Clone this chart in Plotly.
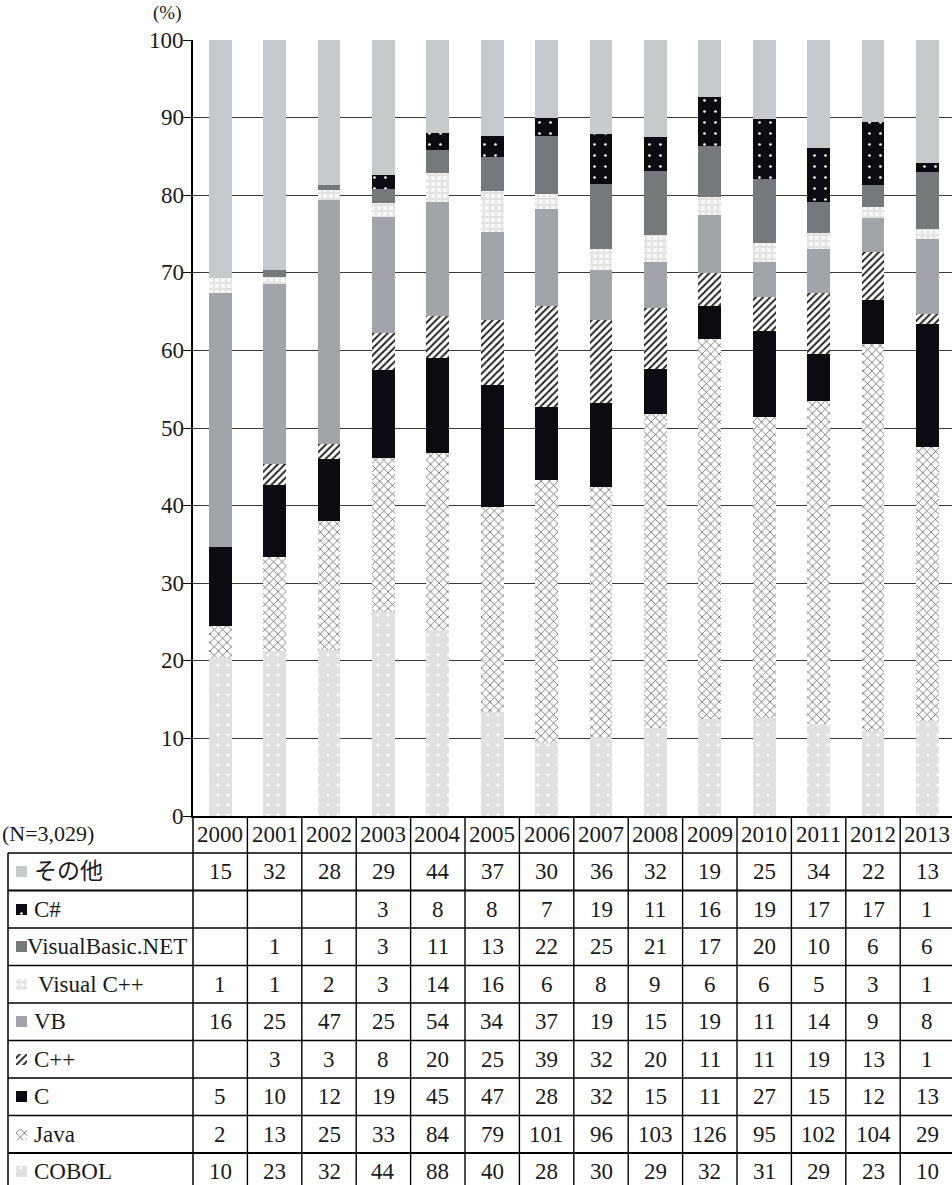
import numpy as np
import plotly.graph_objects as go

# ---------------- data ----------------
years = ["2000", "2001", "2002", "2003", "2004", "2005", "2006",
         "2007", "2008", "2009", "2010", "2011", "2012", "2013"]

# table order (top -> bottom)
row_labels = ["その他", "C#", "VisualBasic.NET", "Visual C++", "VB", "C++", "C", "Java", "COBOL"]

others = [15, 32, 28, 29, 44, 37, 30, 36, 32, 19, 25, 34, 22, 13]
csharp = [None, None, None, 3, 8, 8, 7, 19, 11, 16, 19, 17, 17, 1]
vbnet = [None, 1, 1, 3, 11, 13, 22, 25, 21, 17, 20, 10, 6, 6]
vcpp = [1, 1, 2, 3, 14, 16, 6, 8, 9, 6, 6, 5, 3, 1]
vb = [16, 25, 47, 25, 54, 34, 37, 19, 15, 19, 11, 14, 9, 8]
cpp = [None, 3, 3, 8, 20, 25, 39, 32, 20, 11, 11, 19, 13, 1]
c_lang = [5, 10, 12, 19, 45, 47, 28, 32, 15, 11, 27, 15, 12, 13]
java = [2, 13, 25, 33, 84, 79, 101, 96, 103, 126, 95, 102, 104, 29]
cobol = [10, 23, 32, 44, 88, 40, 28, 30, 29, 32, 31, 29, 23, 10]

y_ticks = [0, 10, 20, 30, 40, 50, 60, 70, 80, 90, 100]
n_label = "(N=3,029)"
unit_label = "(%)"

counts = [others, csharp, vbnet, vcpp, vb, cpp, c_lang, java, cobol]

# ---------------- styles ----------------
W, H = 952, 1185
FONT = "Liberation Serif, Noto Sans CJK JP, serif"
TXT = "#1a1a1a"

styles = {
    "その他": dict(color="#c8c9cb"),
    "C#": dict(color="#0c0b10", pattern=dict(shape=".", fgcolor="#ffffff", bgcolor="#0c0b10",
                                             size=11, solidity=0.045, fillmode="replace")),
    "VisualBasic.NET": dict(color="#77787a"),
    "Visual C++": dict(color="#eeeeee", pattern=dict(shape="+", fgcolor="#e2e2e2", bgcolor="#f6f6f6",
                                                     size=6, solidity=0.5, fillmode="replace")),
    "VB": dict(color="#a3a4a7"),
    "C++": dict(color="#ffffff", pattern=dict(shape="/", fgcolor="#222222", bgcolor="#ffffff",
                                              size=5, solidity=0.4, fillmode="replace")),
    "C": dict(color="#0c0b10"),
    "Java": dict(color="#ffffff", pattern=dict(shape="x", fgcolor="#3a3a3a", bgcolor="#ffffff",
                                               size=6, solidity=0.2, fillmode="replace")),
    "COBOL": dict(color="#e1e1e1", pattern=dict(shape=".", fgcolor="#ffffff", bgcolor="#e1e1e1",
                                                size=10, solidity=0.06, fillmode="replace")),
}

# pixel helpers (layout only)
def pxx(px):
    return px / W

def pxy(py):
    return (H - py) / H

PLOT_L, PLOT_T, PLOT_B = 193, 40, 816
COL_W = 54.4
HEAD_BOT = 853
ROW_H = 37.5

arr = np.array([[0 if v is None else v for v in s] for s in counts], dtype=float)
totals = arr.sum(axis=0)
pct = arr / totals * 100.0

fig = go.Figure()

# stacked bars: bottom (COBOL) to top (その他)
for i in reversed(range(len(row_labels))):
    name = row_labels[i]
    st = styles[name]
    marker = dict(color=st["color"], line=dict(width=0))
    if "pattern" in st:
        marker["pattern"] = st["pattern"]
    fig.add_trace(go.Bar(x=years, y=pct[i], name=name, marker=marker,
                         showlegend=False, hoverinfo="skip"))

# legend symbols in the table (small bars on their own axes)
n_vis_rows = (H - HEAD_BOT) / ROW_H
for i, name in enumerate(row_labels):
    st = styles[name]
    marker = dict(color=st["color"], line=dict(width=0))
    if "pattern" in st:
        marker["pattern"] = dict(st["pattern"])
    fig.add_trace(go.Bar(x=[1], y=[i + 0.5], orientation="h", width=0.29, base=0,
                         marker=marker, showlegend=False, hoverinfo="skip",
                         xaxis="x2", yaxis="y2"))

fig.update_layout(
    width=W, height=H,
    margin=dict(l=0, r=0, t=0, b=0),
    paper_bgcolor="white", plot_bgcolor="white",
    barmode="stack", bargap=0.58,
    font=dict(family=FONT, color=TXT, size=21),
    xaxis=dict(domain=[pxx(PLOT_L), 1], type="category",
               range=[-0.5, -0.5 + (W - PLOT_L) / COL_W],
               showticklabels=False, ticks="", showgrid=False,
               showline=True, linecolor="black", linewidth=1.5, zeroline=False,
               anchor="y"),
    yaxis=dict(domain=[pxy(PLOT_B), pxy(PLOT_T)], range=[0, 100],
               tickvals=y_ticks, ticks="outside", ticklen=8, tickcolor="black", tickwidth=1,
               showticklabels=False,
               showgrid=True, gridcolor="#3a3a3a", gridwidth=1,
               showline=True, linecolor="black", linewidth=1.5, zeroline=False,
               automargin=False, anchor="x"),
    xaxis2=dict(domain=[pxx(16), pxx(27)], range=[0, 1], visible=False, anchor="y2",
                fixedrange=True),
    yaxis2=dict(domain=[0, pxy(HEAD_BOT)], range=[n_vis_rows, 0], visible=False, anchor="x2",
                fixedrange=True),
)

shapes = []
# axis line continues down as label-column border
shapes.append(dict(type="line", xref="paper", yref="paper", x0=pxx(PLOT_L), x1=pxx(PLOT_L),
                   y0=pxy(PLOT_B), y1=0, line=dict(color="black", width=1.5)))
# left border of label column
shapes.append(dict(type="line", xref="paper", yref="paper", x0=pxx(8), x1=pxx(8),
                   y0=pxy(HEAD_BOT), y1=0, line=dict(color="black", width=1.5)))
# vertical column separators
for k in range(1, len(years)):
    shapes.append(dict(type="line", xref="x", yref="paper", x0=k - 0.5, x1=k - 0.5,
                       y0=pxy(PLOT_B), y1=0, line=dict(color="black", width=1.4)))
# horizontal row lines
for j in range(len(row_labels)):
    yy = HEAD_BOT + ROW_H * j
    wdt = 2.2 if j in (1, 8) else 1.4
    shapes.append(dict(type="line", xref="paper", yref="paper", x0=pxx(8), x1=1,
                       y0=pxy(yy), y1=pxy(yy), line=dict(color="black", width=wdt)))
fig.update_layout(shapes=shapes)

ann = []
# y tick labels (placed on the y scale)
for t in y_ticks:
    ann.append(dict(text=str(t), xref="paper", yref="y", x=pxx(PLOT_L - 8), y=t,
                    showarrow=False, font=dict(size=23, family=FONT, color=TXT),
                    xanchor="right", yanchor="middle", xshift=1))
ann.append(dict(text=unit_label, xref="paper", yref="paper", x=pxx(167), y=pxy(13),
                showarrow=False, font=dict(size=19, family=FONT, color=TXT),
                xanchor="center", yanchor="middle"))
ann.append(dict(text=n_label, xref="paper", yref="paper", x=pxx(0), y=pxy(833),
                showarrow=False, font=dict(size=22, family=FONT, color=TXT),
                xanchor="left", yanchor="middle"))
# year header (category index on the x axis)
for k, yr in enumerate(years):
    ann.append(dict(text=yr, xref="x", yref="paper", x=k, y=pxy(834), showarrow=False,
                    font=dict(size=23, family=FONT, color=TXT), xanchor="center", yanchor="middle"))
# row labels + values
for i, name in enumerate(row_labels):
    yc = pxy(HEAD_BOT + ROW_H * (i + 0.5))
    lx = 24.5 if name == "VisualBasic.NET" else (36 if name == "Visual C++" else 32)
    ann.append(dict(text=name, xref="paper", yref="paper", x=pxx(lx), y=yc, showarrow=False,
                    font=dict(size=23, family=FONT, color=TXT), xanchor="left", yanchor="middle"))
    for k, yr in enumerate(years):
        v = counts[i][k]
        if v is None:
            continue
        ann.append(dict(text=str(v), xref="x", yref="paper", x=k, y=yc, showarrow=False,
                        font=dict(size=23, family=FONT, color=TXT),
                        xanchor="center", yanchor="middle"))
fig.update_layout(annotations=ann)

fig.write_html("out.html")
